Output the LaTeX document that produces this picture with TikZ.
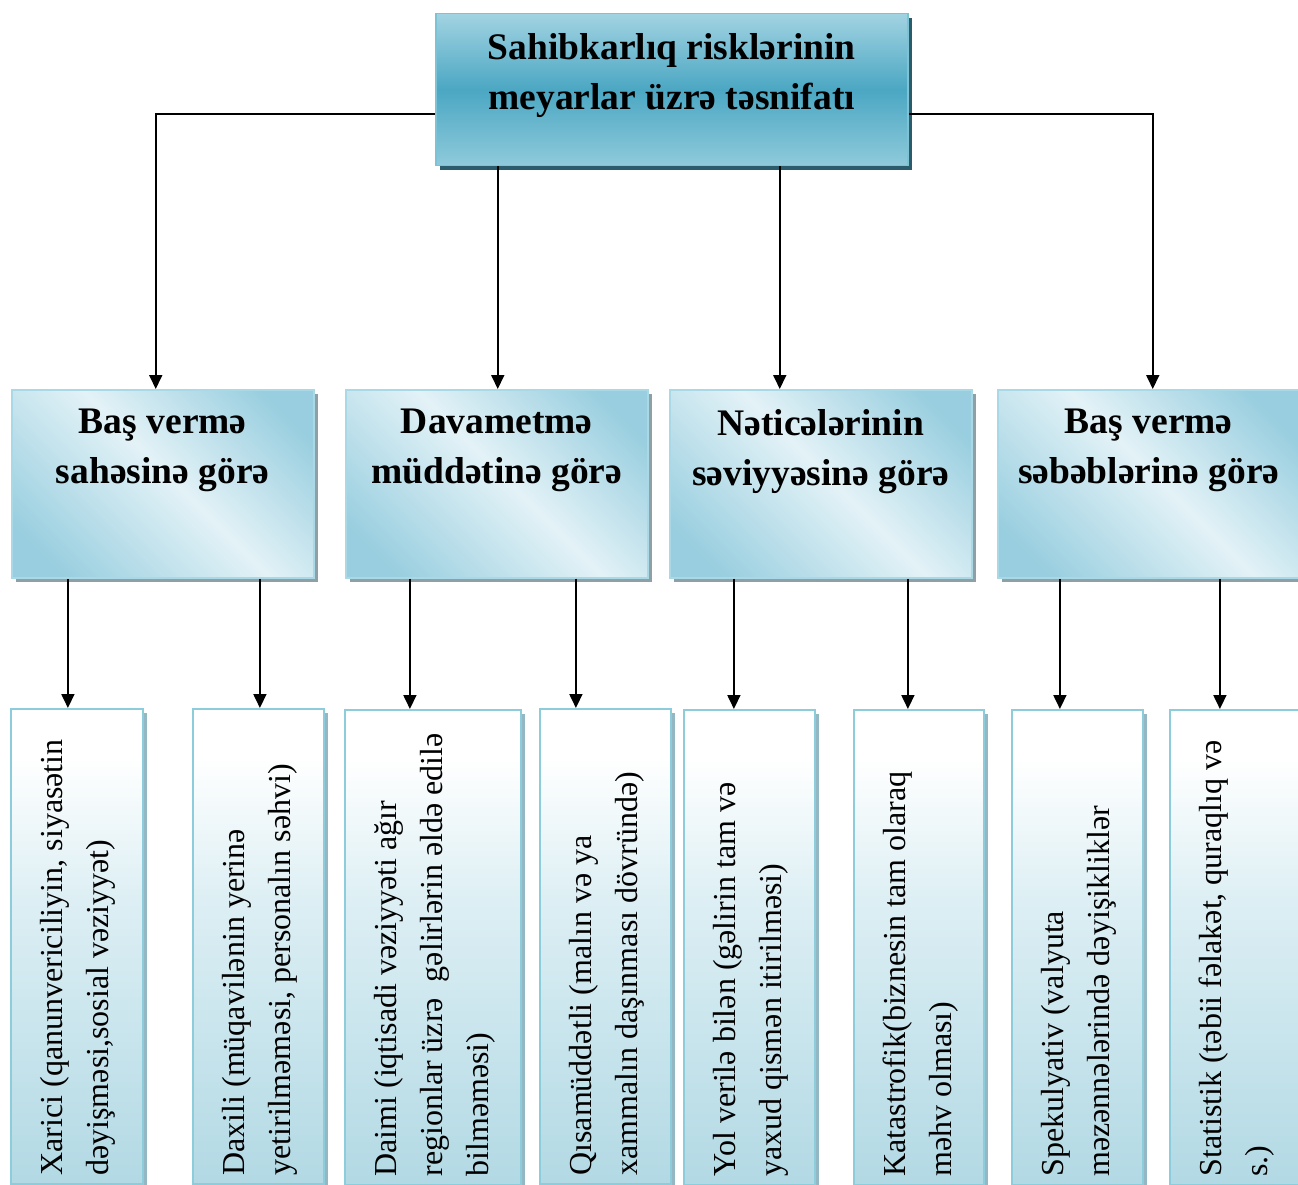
\documentclass[tikz,border=0pt]{standalone}
\usepackage{fontspec}
\setmainfont{Liberation Serif}
\usetikzlibrary{arrows.meta,shadows,calc}
\definecolor{topA}{HTML}{A2D3E2}
\definecolor{topC}{HTML}{8FCADB}
\definecolor{topB}{HTML}{4BA7C3}
\definecolor{topLine}{HTML}{7CC3D6}
\definecolor{topShadow}{HTML}{2A5C6C}
\definecolor{midDark}{HTML}{98CEDF}
\definecolor{midLight}{HTML}{E3F2F7}
\definecolor{midLine}{HTML}{A9D9E6}
\definecolor{midShadow}{HTML}{8E9FA6}
\definecolor{lowBottom}{HTML}{B2D9E4}
\definecolor{lowMid}{HTML}{DDEFF4}
\definecolor{lowLine}{HTML}{8DCCDB}
\definecolor{lowShadow}{HTML}{93B8C3}
\pgfdeclarehorizontalshading{diagband}{100bp}{color(0bp)=(midDark); color(22bp)=(midDark); color(52bp)=(midLight); color(78bp)=(midDark); color(100bp)=(midDark)}
\pgfdeclareverticalshading{lowshade}{100bp}{color(0bp)=(lowBottom); color(25bp)=(lowBottom); color(55bp)=(lowMid); color(70bp)=(white); color(100bp)=(white)}
\tikzset{
  topbox/.style={draw=topLine, line width=1.5pt, top color=topA, bottom color=topC, middle color=topB,
    minimum width=472pt, minimum height=152pt, inner sep=0pt, anchor=north west,
    drop shadow={shadow xshift=4pt, shadow yshift=-4pt, fill=topShadow, opacity=1}},
  midbox/.style={draw=midLine, line width=1.5pt, shading=diagband, shading angle=45,
    minimum width=302pt, minimum height=188pt, inner sep=0pt, anchor=north west,
    drop shadow={shadow xshift=4pt, shadow yshift=-4pt, fill=midShadow, opacity=1}},
  lowbox/.style={draw=lowLine, line width=1.8pt, shading=lowshade,
    minimum height=475pt, inner sep=0pt, anchor=north west,
    drop shadow={shadow xshift=4pt, shadow yshift=-4pt, fill=lowShadow, opacity=1}},
  headtext/.style={font=\fontsize{37.5}{50}\selectfont\bfseries, align=center, inner sep=0pt, anchor=north},
  lowtext/.style={font=\fontsize{32}{46}\selectfont, align=left, inner sep=0pt, rotate=90, anchor=north west},
  arr/.style={line width=1.8pt, -{Triangle[length=14pt,width=13pt]}}
}
\begin{document}
\begin{tikzpicture}[x=1pt,y=1pt]
\useasboundingbox (0,0) rectangle (1298,-1185);
% top
\node[topbox] (top) at (435,-13) {};
\node[headtext] (topt) at ([yshift=-20pt]top.north) {Sahibkarlıq risklərinin\\meyarlar üzrə təsnifatı};
% level 2
\node[midbox] (L1) at (11,-389) {};
\node[midbox] (L2) at (345,-389) {};
\node[midbox] (L3) at (669,-389) {};
\node[midbox] (L4) at (997,-389) {};
\node[headtext] (L1t) at ([yshift=-20pt]L1.north) {Baş vermə\\sahəsinə görə};
\node[headtext] (L2t) at ([yshift=-20pt]L2.north) {Davametmə\\müddətinə görə};
\node[headtext] (L3t) at ([yshift=-20pt]L3.north) {Nəticələrinin\\səviyyəsinə görə};
\node[headtext] (L4t) at ([yshift=-20pt]L4.north) {Baş vermə\\səbəblərinə görə};
% level 3
\node[lowbox, minimum width=132pt] (a) at (10,-708) {};
\node[lowbox, minimum width=131pt] (b) at (192,-708) {};
\node[lowbox, minimum width=176pt] (c) at (344,-709) {};
\node[lowbox, minimum width=131pt] (d) at (539,-708) {};
\node[lowbox, minimum width=131pt] (e) at (683,-709) {};
\node[lowbox, minimum width=130pt] (f) at (853,-709) {};
\node[lowbox, minimum width=131pt] (g) at (1011,-709) {};
\node[lowbox, minimum width=131pt] (h) at (1169,-709) {};
\node[lowtext] (at) at ([xshift=30pt,yshift=9pt]a.south west) {Xarici (qanunvericiliyin, siyasətin\\dəyişməsi,sosial vəziyyət)};
\node[lowtext] (bt) at ([xshift=30pt,yshift=9pt]b.south west) {Daxili (müqavilənin yerinə\\yetirilməməsi, personalın səhvi)};
\node[lowtext] (ct) at ([xshift=30pt,yshift=9pt]c.south west) {Daimi (iqtisadi vəziyyəti ağır\\regionlar üzrə\ \ gəlirlərin əldə edilə\\bilməməsi)};
\node[lowtext] (dt) at ([xshift=30pt,yshift=9pt]d.south west) {Qısamüddətli (malın və ya\\xammalın daşınması dövründə)};
\node[lowtext] (et) at ([xshift=30pt,yshift=9pt]e.south west) {Yol verilə bilən (gəlirin tam və\\yaxud qismən itirilməsi)};
\node[lowtext] (ft) at ([xshift=30pt,yshift=9pt]f.south west) {Katastrofik(biznesin tam olaraq\\məhv olması)};
\node[lowtext] (gt) at ([xshift=30pt,yshift=9pt]g.south west) {Spekulyativ (valyuta\\məzənnələrində dəyişikliklər};
\node[lowtext] (ht) at ([xshift=30pt,yshift=9pt]h.south west) {Statistik (təbii fəlakət, quraqlıq və\\s.)};
% connectors top -> level 2
\draw[arr] ([yshift=-24pt]top.west) -| ([xshift=-7pt]L1.north);
\draw[arr] ([yshift=-24pt]top.east) -| ([xshift=4pt]L4.north);
\draw[arr] ([xshift=1pt]L2.north |- top.south) -- ([xshift=1pt]L2.north);
\draw[arr] ([xshift=-41pt]L3.north |- top.south) -- ([xshift=-41pt]L3.north);
% connectors level 2 -> level 3
\draw[arr] ([xshift=-9pt]a.north |- L1.south) -- ([xshift=-9pt]a.north);
\draw[arr] ([xshift=1.5pt]b.north |- L1.south) -- ([xshift=1.5pt]b.north);
\draw[arr] ([xshift=-23pt]c.north |- L2.south) -- ([xshift=-23pt]c.north);
\draw[arr] ([xshift=-29.5pt]d.north |- L2.south) -- ([xshift=-29.5pt]d.north);
\draw[arr] ([xshift=-15.5pt]e.north |- L3.south) -- ([xshift=-15.5pt]e.north);
\draw[arr] ([xshift=-11pt]f.north |- L3.south) -- ([xshift=-11pt]f.north);
\draw[arr] ([xshift=-17.5pt]g.north |- L4.south) -- ([xshift=-17.5pt]g.north);
\draw[arr] ([xshift=-15.5pt]h.north |- L4.south) -- ([xshift=-15.5pt]h.north);
\end{tikzpicture}
\end{document}
